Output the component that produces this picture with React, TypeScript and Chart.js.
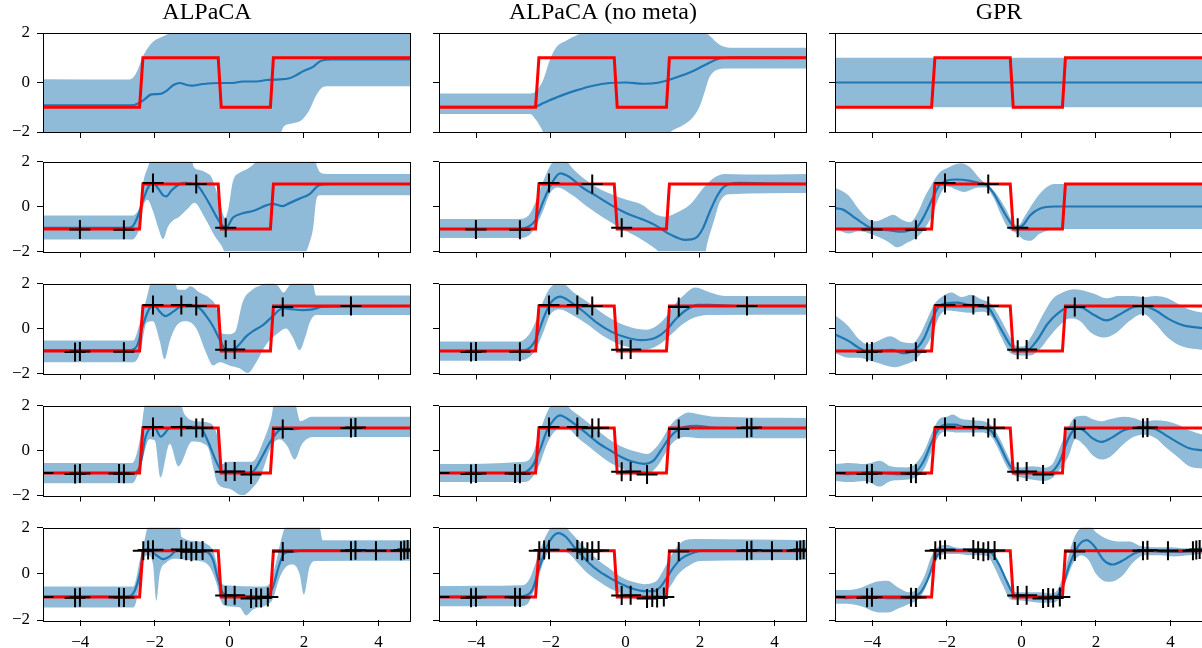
import React, { useEffect, useRef } from 'react';
import { Chart, registerables } from 'chart.js';
Chart.register(...registerables);

// ---------- text / ticks ----------
const titles = ['ALPaCA', 'ALPaCA (no meta)', 'GPR'];
const xTicks = [-4, -2, 0, 2, 4];
const yTicks = [-2, 0, 2];
const X_MIN = -5;
const X_MAX = 4.87;
const Y_MIN = -2;
const Y_MAX = 2;

// ---------- true function (red) ----------
const stepX = [-5, -2.41, -2.32, -0.3, -0.22, 1.1, 1.18, 4.87];
const stepY = [-1, -1, 1, 1, -1, -1, 1, 1];

// ---------- observed samples (first n used per row) ----------
const markerX = [-4.01, -2.83, -2.05, -0.89, -0.1, -4.14, -1.29, 0.14, 1.43, 3.26, -5.0, -2.96, -0.72, 0.58, 3.38, -2.31, -2.18, -1.16, -1.02, 0.72, 0.85, 1.03, 3.93, 4.6, 4.69, 4.78];
const markerY = [-1.02, -1.03, 1.04, 1.0, -0.94, -1.04, 1.05, -0.93, 0.96, 1.0, -1.0, -1.02, 1.01, -1.07, 1.02, 1.0, 1.03, 1.0, 0.95, -1.03, -1.05, -1.0, 1.0, 1.0, 1.03, 1.05];
const markersPerRow = [0, 5, 10, 15, 26];

// ---------- ALPaCA ----------
const alp1Mean = [[-5, -0.92], [-2.6, -0.92], [-2.45, -0.85], [-2.31, -0.72], [-2.09, -0.48], [-1.85, -0.46], [-1.7, -0.35], [-1.5, -0.1], [-1.33, -0.02], [-1.15, -0.1], [-1.0, -0.13], [-0.71, -0.06], [-0.26, -0.02], [0.09, -0.02], [0.36, 0.04], [0.72, 0.04], [0.99, 0.1], [1.25, 0.12], [1.61, 0.17], [1.8, 0.3], [1.97, 0.45], [2.23, 0.62], [2.46, 0.88], [2.77, 0.93], [4.87, 0.93]];
const alp1Upper = [[-5, 0.13], [-2.7, 0.12], [-2.58, 0.2], [-2.45, 0.55], [-2.35, 0.95], [-2.23, 1.3], [-2.05, 1.65], [-1.8, 1.85], [-1.6, 2.0], [-1.4, 2.2], [4.87, 2.2]];
const alp1Lower = [[-5, -2.3], [1.3, -2.3], [1.45, -1.8], [1.7, -1.65], [1.95, -1.5], [2.15, -1.1], [2.3, -0.6], [2.45, -0.25], [2.6, -0.15], [4.87, -0.15]];

const alp2Mean = [[-5, -0.95], [-2.7, -0.95], [-2.58, -0.85], [-2.45, -0.4], [-2.31, 0.3], [-2.18, 0.85], [-2.05, 1.05], [-1.91, 0.8], [-1.78, 0.5], [-1.69, 0.45], [-1.56, 0.7], [-1.33, 1.0], [-1.16, 1.05], [-0.89, 0.98], [-0.71, 0.6], [-0.53, 0.1], [-0.35, -0.45], [-0.19, -0.85], [-0.08, -0.93], [0.09, -0.5], [0.36, -0.3], [0.63, -0.2], [0.99, 0.05], [1.16, 0.12], [1.43, 0.02], [1.61, 0.15], [1.88, 0.35], [2.15, 0.55], [2.41, 0.95], [2.77, 1.0], [4.87, 1.0]];
const alp2Upper = [[-5, -0.4], [-2.6, -0.4], [-2.5, -0.3], [-2.4, 0.05], [-2.31, 1.1], [-2.18, 1.78], [-2.1, 2.1], [-1.0, 2.1], [-0.97, 1.8], [-0.8, 1.62], [-0.62, 1.5], [-0.48, 1.3], [-0.35, 0.7], [-0.22, -0.05], [-0.12, -0.5], [-0.03, -0.1], [0.09, 1.1], [0.27, 1.5], [0.45, 1.65], [0.63, 1.85], [0.8, 2.1], [2.3, 2.1], [2.35, 1.78], [2.45, 1.5], [2.6, 1.45], [4.87, 1.45]];
const alp2Lower = [[-5, -1.47], [-2.6, -1.47], [-2.5, -1.3], [-2.4, -0.9], [-2.31, 0.0], [-2.2, 0.3], [-2.05, -0.2], [-1.9, -1.0], [-1.78, -1.45], [-1.65, -0.9], [-1.5, -0.6], [-1.38, -0.5], [-1.12, -0.1], [-0.94, 0.17], [-0.66, -0.5], [-0.4, -1.3], [-0.22, -1.72], [-0.08, -2.1], [2.0, -2.1], [2.15, -1.6], [2.25, -0.9], [2.32, 0.2], [2.41, 0.5], [4.87, 0.5]];

const alp3Mean = [[-5, -0.97], [-2.7, -0.97], [-2.49, -0.8], [-2.31, 0.2], [-2.14, 0.9], [-2.0, 1.0], [-1.87, 0.75], [-1.72, 0.55], [-1.51, 0.75], [-1.29, 1.0], [-1.07, 1.05], [-0.8, 0.9], [-0.62, 0.55], [-0.44, 0.1], [-0.26, -0.5], [-0.1, -0.93], [0.09, -0.95], [0.27, -0.7], [0.45, -0.35], [0.63, -0.12], [0.9, 0.15], [1.16, 0.55], [1.43, 0.9], [1.7, 0.85], [1.97, 0.82], [2.23, 0.85], [2.5, 0.97], [4.87, 1.0]];
const alp3Upper = [[-5, -0.53], [-2.58, -0.53], [-2.4, 0.26], [-2.22, 1.34], [-2.09, 2.05], [-1.45, 2.05], [-1.4, 1.75], [-1.2, 1.72], [-1.05, 1.88], [-0.8, 1.6], [-0.53, 1.34], [-0.35, 0.93], [-0.22, -0.2], [-0.05, -0.25], [0.15, -0.15], [0.36, 1.2], [0.63, 1.75], [0.9, 1.95], [1.1, 2.05], [1.3, 1.9], [1.45, 1.6], [1.6, 1.9], [1.7, 2.05], [2.23, 2.05], [2.32, 1.47], [4.87, 1.47]];
const alp3Lower = [[-5, -1.5], [-2.58, -1.5], [-2.4, -1.1], [-2.22, 0.26], [-2.05, 0.32], [-1.87, -0.55], [-1.74, -1.36], [-1.6, -0.55], [-1.42, 0.12], [-1.16, 0.32], [-0.89, 0.0], [-0.62, -1.1], [-0.44, -1.64], [-0.26, -1.5], [0.0, -1.64], [0.27, -1.77], [0.49, -1.98], [0.72, -1.5], [0.99, -0.7], [1.34, -0.15], [1.52, 0.0], [1.7, -0.4], [1.88, -0.96], [2.05, -0.3], [2.15, 0.26], [2.32, 0.6], [4.87, 0.6]];

const alp4Mean = [[-5, -1.0], [-2.6, -1.0], [-2.4, -0.7], [-2.25, 0.6], [-2.12, 1.0], [-2.02, 1.05], [-1.84, 0.62], [-1.6, 1.0], [-1.3, 1.05], [-0.8, 1.05], [-0.6, 0.5], [-0.35, -0.5], [-0.2, -0.92], [0.0, -0.95], [0.3, -0.95], [0.55, -1.05], [0.7, -0.8], [0.9, -0.2], [1.1, 0.4], [1.3, 0.85], [1.45, 0.97], [1.7, 0.95], [2.0, 1.0], [4.87, 1.0]];
const alp4Upper = [[-5, -0.55], [-2.6, -0.55], [-2.4, 0.5], [-2.25, 2.1], [-1.33, 2.1], [-1.2, 1.6], [-0.9, 1.3], [-0.5, 1.2], [-0.3, 0.5], [-0.2, -0.6], [0.0, -0.5], [0.6, -0.5], [0.93, 0.5], [1.13, 1.5], [1.2, 2.1], [1.75, 2.1], [1.9, 1.3], [2.2, 1.5], [4.87, 1.5]];
const alp4Lower = [[-5, -1.45], [-2.6, -1.45], [-2.35, -0.5], [-2.15, 0.5], [-2.0, 0.45], [-1.85, -1.2], [-1.6, 0.3], [-1.37, -0.7], [-1.0, 0.4], [-0.6, 0.2], [-0.3, -1.5], [0.0, -1.7], [0.35, -2.0], [0.6, -1.7], [0.82, -1.2], [1.13, 0.2], [1.34, 0.5], [1.55, 0.2], [1.75, -0.4], [1.95, 0.3], [2.26, 0.6], [4.87, 0.6]];

const alp5Mean = [[-5, -1.0], [-2.76, -1.0], [-2.58, -0.85], [-2.4, 0.0], [-2.3, 0.95], [-2.18, 1.05], [-1.96, 0.8], [-1.78, 0.63], [-1.6, 0.75], [-1.42, 1.0], [-1.1, 0.97], [-0.62, 0.95], [-0.44, 0.6], [-0.31, -0.2], [-0.17, -0.85], [0.09, -0.95], [0.99, -1.0], [1.16, -0.6], [1.34, 0.4], [1.48, 0.9], [1.7, 0.95], [1.97, 1.0], [4.87, 1.0]];
const alp5Upper = [[-5, -0.55], [-2.58, -0.55], [-2.4, 0.6], [-2.27, 1.5], [-2.18, 2.05], [-1.33, 2.05], [-1.29, 1.6], [-0.8, 1.4], [-0.62, 1.3], [-0.44, 1.0], [-0.3, 0.2], [-0.22, -0.4], [-0.08, -0.5], [0.9, -0.55], [1.07, -0.45], [1.25, 0.5], [1.39, 1.5], [1.52, 2.05], [2.41, 2.05], [2.5, 1.45], [4.87, 1.45]];
const alp5Lower = [[-5, -1.46], [-2.58, -1.46], [-2.5, -1.2], [-2.3, 0.7], [-2.18, 0.8], [-2.05, 0.4], [-1.96, -1.17], [-1.87, 0.0], [-1.69, 0.49], [-1.42, 0.65], [-1.16, 0.6], [-0.8, 0.55], [-0.53, 0.3], [-0.35, -0.4], [-0.22, -1.2], [-0.08, -1.4], [0.27, -1.45], [0.45, -1.8], [0.63, -1.55], [0.99, -1.35], [1.16, -1.1], [1.34, -0.2], [1.52, 0.3], [1.7, 0.4], [1.88, 0.0], [2.0, -0.9], [2.15, 0.3], [2.32, 0.55], [4.87, 0.56]];

// ---------- ALPaCA (no meta) ----------
const nom1Mean = [[-5, -0.98], [-2.43, -0.98], [-2.2, -0.83], [-1.76, -0.55], [-1.32, -0.32], [-0.87, -0.13], [-0.42, -0.02], [0.02, 0.0], [0.47, -0.05], [0.91, 0.0], [1.36, 0.2], [1.8, 0.45], [2.25, 0.8], [2.52, 0.97], [3.14, 1.02], [4.87, 1.0]];
const nom1Upper = [[-5, -0.44], [-2.56, -0.44], [-2.4, -0.35], [-2.21, 0.09], [-2.03, 0.9], [-1.85, 1.43], [-1.58, 1.7], [-1.32, 1.9], [-1.05, 2.05], [2.0, 2.05], [2.25, 1.9], [2.43, 1.64], [2.61, 1.46], [2.79, 1.4], [4.87, 1.4]];
const nom1Lower = [[-5, -1.27], [-2.56, -1.27], [-2.39, -1.53], [-2.25, -1.87], [-2.17, -2.1], [1.1, -2.1], [1.27, -1.93], [1.54, -1.73], [1.81, -1.4], [1.98, -1.0], [2.12, -0.4], [2.25, 0.2], [2.43, 0.5], [2.7, 0.57], [4.87, 0.57]];

const nom2Mean = [[-5, -1.0], [-2.87, -1.0], [-2.6, -0.9], [-2.41, -0.6], [-2.21, 0.2], [-2.02, 0.9], [-1.75, 1.47], [-1.49, 1.3], [-1.16, 0.85], [-0.76, 0.45], [-0.37, 0.05], [0.03, -0.3], [0.42, -0.55], [0.82, -0.85], [1.21, -1.25], [1.61, -1.48], [1.88, -1.4], [2.07, -1.0], [2.27, -0.2], [2.47, 0.5], [2.66, 0.9], [3.06, 1.05], [3.98, 1.02], [4.87, 1.0]];
const nom2Upper = [[-5, -0.55], [-2.87, -0.55], [-2.6, -0.4], [-2.41, 0.2], [-2.21, 1.1], [-2.02, 1.8], [-1.88, 2.05], [-1.62, 2.05], [-1.42, 1.7], [-1.16, 1.3], [-0.76, 0.85], [-0.37, 0.55], [0.03, 0.3], [0.42, 0.1], [0.82, -0.35], [1.08, -0.45], [1.34, -0.3], [1.74, 0.1], [2.13, 0.9], [2.4, 1.3], [2.66, 1.45], [3.19, 1.42], [4.87, 1.45]];
const nom2Lower = [[-5, -1.4], [-2.87, -1.4], [-2.6, -1.3], [-2.41, -0.9], [-2.21, -0.2], [-2.02, 0.6], [-1.82, 0.85], [-1.42, 0.5], [-1.03, 0.0], [-0.63, -0.45], [-0.24, -0.85], [0.03, -1.1], [0.42, -1.45], [0.82, -1.9], [0.95, -2.1], [2.13, -2.1], [2.2, -1.6], [2.4, -0.5], [2.53, 0.2], [2.79, 0.55], [4.87, 0.6]];

const nom3Mean = [[-5, -1.0], [-2.87, -1.0], [-2.6, -0.9], [-2.41, -0.5], [-2.21, 0.4], [-2.02, 1.1], [-1.75, 1.42], [-1.49, 1.2], [-1.16, 0.8], [-0.76, 0.25], [-0.37, -0.15], [0.03, -0.4], [0.42, -0.52], [0.82, -0.4], [1.08, -0.1], [1.34, 0.4], [1.61, 0.8], [1.94, 1.05], [2.27, 1.05], [2.93, 1.0], [4.87, 1.0]];
const nom3Upper = [[-5, -0.58], [-2.87, -0.58], [-2.6, -0.3], [-2.41, 0.3], [-2.21, 1.2], [-2.02, 1.8], [-1.82, 2.0], [-1.62, 1.95], [-1.42, 1.65], [-1.03, 1.2], [-0.63, 0.7], [-0.24, 0.3], [0.16, 0.05], [0.56, -0.05], [0.82, 0.1], [1.08, 0.5], [1.34, 1.1], [1.61, 1.55], [1.87, 1.82], [2.27, 1.6], [2.66, 1.45], [4.87, 1.45]];
const nom3Lower = [[-5, -1.43], [-2.87, -1.43], [-2.6, -1.3], [-2.41, -0.95], [-2.21, -0.2], [-2.02, 0.6], [-1.75, 0.84], [-1.42, 0.6], [-1.03, 0.2], [-0.63, -0.3], [-0.24, -0.65], [0.03, -0.8], [0.42, -0.95], [0.75, -0.85], [1.0, -0.6], [1.27, -0.2], [1.54, 0.2], [1.87, 0.5], [2.27, 0.6], [4.87, 0.61]];

const nom4Mean = [[-5, -1.0], [-2.8, -1.0], [-2.5, -0.7], [-2.3, 0.0], [-2.1, 0.9], [-1.9, 1.4], [-1.75, 1.56], [-1.55, 1.4], [-1.3, 1.1], [-1.0, 0.7], [-0.7, 0.3], [-0.4, 0.0], [-0.1, -0.3], [0.2, -0.5], [0.5, -0.59], [0.75, -0.45], [0.95, 0.0], [1.15, 0.5], [1.35, 0.85], [1.6, 1.05], [1.9, 1.1], [2.3, 1.02], [3.0, 1.0], [4.87, 1.0]];
const nom4Upper = [[-5, -0.6], [-2.7, -0.5], [-2.5, -0.2], [-2.3, 0.8], [-2.1, 1.7], [-1.95, 2.05], [-1.6, 2.05], [-1.45, 1.8], [-1.2, 1.5], [-0.9, 1.1], [-0.6, 0.7], [-0.3, 0.35], [0.0, 0.1], [0.3, -0.05], [0.6, -0.15], [0.8, 0.1], [1.0, 0.55], [1.2, 1.1], [1.45, 1.5], [1.7, 1.69], [2.0, 1.6], [2.4, 1.5], [4.87, 1.45]];
const nom4Lower = [[-5, -1.4], [-2.7, -1.4], [-2.5, -1.2], [-2.3, -0.6], [-2.1, 0.3], [-1.9, 0.85], [-1.7, 1.0], [-1.5, 0.95], [-1.3, 0.6], [-1.0, 0.2], [-0.7, -0.2], [-0.4, -0.55], [-0.1, -0.8], [0.2, -1.0], [0.5, -1.05], [0.7, -0.95], [0.9, -0.6], [1.1, -0.05], [1.3, 0.4], [1.6, 0.6], [2.0, 0.55], [4.87, 0.55]];

const nom5Mean = [[-5, -1.0], [-3.0, -1.0], [-2.7, -0.95], [-2.5, -0.7], [-2.3, 0.3], [-2.1, 1.2], [-1.95, 1.6], [-1.8, 1.76], [-1.6, 1.6], [-1.4, 1.2], [-1.2, 0.85], [-1.0, 0.5], [-0.7, 0.1], [-0.4, -0.2], [-0.1, -0.45], [0.2, -0.65], [0.5, -0.75], [0.75, -0.75], [0.95, -0.55], [1.1, -0.2], [1.3, 0.3], [1.5, 0.65], [1.8, 0.9], [2.1, 1.0], [4.87, 1.0]];
const nom5Upper = [[-5, -0.53], [-2.8, -0.5], [-2.6, -0.3], [-2.4, 0.5], [-2.2, 1.4], [-2.0, 2.0], [-1.9, 2.1], [-1.65, 2.1], [-1.5, 1.85], [-1.3, 1.5], [-1.0, 1.0], [-0.7, 0.55], [-0.4, 0.2], [-0.1, -0.15], [0.2, -0.35], [0.5, -0.45], [0.8, -0.35], [1.0, 0.1], [1.2, 0.7], [1.4, 1.2], [1.6, 1.45], [1.9, 1.5], [4.87, 1.45]];
const nom5Lower = [[-5, -1.4], [-2.8, -1.4], [-2.6, -1.25], [-2.4, -0.5], [-2.2, 0.5], [-2.05, 0.95], [-1.8, 1.05], [-1.5, 0.85], [-1.3, 0.5], [-1.0, 0.0], [-0.7, -0.35], [-0.4, -0.65], [-0.1, -0.85], [0.2, -1.0], [0.5, -1.1], [0.8, -1.1], [1.0, -0.9], [1.2, -0.55], [1.4, -0.05], [1.7, 0.35], [2.0, 0.55], [4.87, 0.6]];

// ---------- GPR ----------
const gpr1Mean = [[-5, 0], [4.87, 0]];
const gpr1Upper = [[-5, 1], [4.87, 1]];
const gpr1Lower = [[-5, -1], [4.87, -1]];

const gpr2Mean = [[-5, -0.07], [-4.77, -0.15], [-4.51, -0.45], [-4.25, -0.75], [-4.01, -0.98], [-3.59, -1.05], [-3.19, -1.12], [-2.99, -1.05], [-2.79, -0.9], [-2.6, -0.4], [-2.4, 0.3], [-2.2, 0.95], [-2.0, 1.15], [-1.74, 1.2], [-1.41, 1.15], [-1.15, 1.05], [-0.95, 0.98], [-0.75, 0.6], [-0.55, 0.0], [-0.36, -0.55], [-0.16, -0.95], [0.03, -0.85], [0.23, -0.4], [0.49, -0.1], [0.89, 0.0], [4.87, 0.0]];
const gpr2Upper = [[-5, 0.85], [-4.64, 0.5], [-4.37, -0.1], [-4.11, -0.55], [-3.91, -0.65], [-3.59, -0.45], [-3.45, -0.37], [-3.19, -0.6], [-2.99, -0.7], [-2.79, -0.3], [-2.6, 0.4], [-2.4, 1.0], [-2.2, 1.5], [-2.0, 1.7], [-1.61, 1.92], [-1.35, 1.7], [-1.15, 1.3], [-0.95, 1.0], [-0.69, 0.6], [-0.42, -0.1], [-0.23, -0.7], [-0.09, -0.85], [0.1, -0.4], [0.37, 0.3], [0.63, 0.8], [0.89, 1.0], [4.87, 1.0]];
const gpr2Lower = [[-5, -0.97], [-4.64, -1.2], [-4.37, -1.1], [-3.98, -1.25], [-3.59, -1.55], [-3.32, -1.81], [-3.06, -1.6], [-2.79, -1.35], [-2.6, -1.0], [-2.4, -0.4], [-2.2, 0.45], [-2.0, 0.9], [-1.74, 0.75], [-1.54, 0.65], [-1.35, 0.75], [-1.15, 0.85], [-0.95, 0.85], [-0.75, 0.4], [-0.55, -0.35], [-0.36, -0.95], [-0.16, -1.15], [0.04, -1.45], [0.24, -1.52], [0.5, -1.2], [0.76, -1.05], [1.03, -1.0], [4.87, -1.0]];

const gpr3Mean = [[-5, -0.27], [-4.64, -0.55], [-4.37, -0.85], [-4.11, -1.05], [-3.85, -1.0], [-3.45, -0.95], [-3.19, -1.1], [-2.99, -1.05], [-2.79, -0.85], [-2.6, -0.4], [-2.4, 0.4], [-2.2, 1.0], [-2.0, 1.12], [-1.74, 1.15], [-1.41, 1.05], [-1.15, 1.0], [-0.88, 0.9], [-0.69, 0.4], [-0.49, -0.2], [-0.29, -0.75], [-0.09, -0.98], [0.17, -0.95], [0.43, -0.5], [0.7, 0.2], [0.96, 0.65], [1.29, 0.95], [1.56, 0.95], [1.95, 0.6], [2.28, 0.36], [2.61, 0.6], [3.0, 0.95], [3.26, 1.0], [3.6, 0.8], [3.92, 0.45], [4.32, 0.15], [4.87, 0.02]];
const gpr3Upper = [[-5, 0.6], [-4.64, 0.1], [-4.37, -0.45], [-4.11, -0.7], [-3.85, -0.55], [-3.52, -0.34], [-3.19, -0.6], [-2.92, -0.65], [-2.73, -0.3], [-2.53, 0.4], [-2.33, 1.1], [-2.14, 1.4], [-1.87, 1.6], [-1.61, 1.4], [-1.35, 1.5], [-1.08, 1.3], [-0.82, 1.1], [-0.55, 0.4], [-0.36, -0.2], [-0.16, -0.75], [0.04, -0.8], [0.3, -0.25], [0.57, 0.6], [0.83, 1.3], [1.1, 1.6], [1.42, 1.75], [1.95, 1.55], [2.28, 1.35], [2.61, 1.45], [3.0, 1.45], [3.3, 1.4], [3.6, 1.45], [3.92, 1.35], [4.2, 1.1], [4.5, 0.85], [4.87, 0.7]];
const gpr3Lower = [[-5, -1.1], [-4.64, -1.3], [-4.37, -1.3], [-4.11, -1.4], [-3.72, -1.6], [-3.39, -1.72], [-3.12, -1.6], [-2.86, -1.4], [-2.6, -0.9], [-2.4, -0.3], [-2.2, 0.55], [-2.0, 0.8], [-1.67, 0.75], [-1.35, 0.7], [-1.08, 0.75], [-0.82, 0.55], [-0.55, -0.35], [-0.29, -1.1], [-0.03, -1.2], [0.24, -1.2], [0.5, -0.9], [0.76, -0.35], [1.03, 0.15], [1.29, 0.45], [1.56, 0.35], [1.88, -0.2], [2.21, -0.4], [2.54, -0.2], [2.87, 0.3], [3.26, 0.65], [3.6, 0.2], [3.92, -0.4], [4.32, -0.8], [4.87, -0.95]];

const gpr4Mean = [[-5, -1.0], [-4.7, -1.05], [-4.3, -1.0], [-4.0, -0.95], [-3.7, -1.0], [-3.3, -1.05], [-3.0, -1.05], [-2.8, -0.9], [-2.6, -0.4], [-2.4, 0.4], [-2.2, 1.0], [-2.0, 1.15], [-1.8, 1.15], [-1.5, 1.05], [-1.2, 1.05], [-1.0, 1.0], [-0.8, 0.85], [-0.6, 0.3], [-0.4, -0.4], [-0.2, -0.9], [0.0, -0.95], [0.3, -1.0], [0.6, -1.05], [0.85, -0.9], [1.05, -0.4], [1.2, 0.3], [1.35, 0.8], [1.5, 1.0], [1.7, 0.85], [1.9, 0.55], [2.15, 0.38], [2.4, 0.55], [2.75, 0.9], [3.3, 1.05], [3.6, 0.95], [3.9, 0.65], [4.2, 0.35], [4.5, 0.1], [4.87, 0.0]];
const gpr4Upper = [[-5, -0.6], [-4.6, -0.55], [-4.2, -0.6], [-3.8, -0.45], [-3.5, -0.7], [-3.1, -0.75], [-2.85, -0.6], [-2.6, 0.0], [-2.4, 0.8], [-2.2, 1.4], [-2.0, 1.5], [-1.85, 1.6], [-1.6, 1.4], [-1.3, 1.35], [-1.0, 1.3], [-0.8, 1.1], [-0.6, 0.6], [-0.4, -0.1], [-0.2, -0.7], [0.0, -0.75], [0.3, -0.7], [0.6, -0.75], [0.85, -0.55], [1.05, 0.2], [1.25, 1.0], [1.45, 1.5], [1.7, 1.55], [1.9, 1.4], [2.15, 1.3], [2.4, 1.4], [2.75, 1.5], [3.0, 1.45], [3.3, 1.3], [3.6, 1.35], [3.9, 1.3], [4.2, 1.15], [4.5, 0.9], [4.87, 0.7]];
const gpr4Lower = [[-5, -1.35], [-4.6, -1.4], [-4.2, -1.35], [-3.8, -1.6], [-3.5, -1.35], [-3.1, -1.3], [-2.85, -1.2], [-2.6, -0.8], [-2.4, 0.0], [-2.2, 0.7], [-2.0, 0.85], [-1.7, 0.8], [-1.4, 0.8], [-1.1, 0.8], [-0.8, 0.6], [-0.6, 0.0], [-0.4, -0.7], [-0.2, -1.1], [0.0, -1.2], [0.3, -1.3], [0.6, -1.35], [0.85, -1.2], [1.05, -0.8], [1.25, -0.3], [1.45, 0.5], [1.7, 0.2], [1.9, -0.2], [2.15, -0.4], [2.4, -0.25], [2.75, 0.3], [3.0, 0.6], [3.3, 0.7], [3.6, 0.55], [3.9, 0.1], [4.2, -0.3], [4.5, -0.7], [4.87, -0.8]];

const gpr5Mean = [[-5, -1.0], [-4.7, -1.05], [-4.3, -1.0], [-4.0, -1.0], [-3.6, -1.05], [-3.2, -1.05], [-2.9, -1.0], [-2.7, -0.8], [-2.5, -0.2], [-2.3, 0.7], [-2.1, 1.0], [-1.9, 1.05], [-1.6, 1.0], [-1.3, 1.0], [-1.0, 1.0], [-0.8, 0.9], [-0.6, 0.4], [-0.4, -0.3], [-0.2, -0.9], [0.0, -0.98], [0.3, -1.0], [0.6, -1.05], [0.9, -1.0], [1.1, -0.6], [1.25, 0.2], [1.45, 1.0], [1.6, 1.35], [1.75, 1.45], [1.95, 1.2], [2.2, 0.6], [2.45, 0.4], [2.75, 0.6], [3.05, 0.9], [3.4, 1.0], [3.8, 0.95], [4.2, 0.95], [4.87, 1.0]];
const gpr5Upper = [[-5, -0.7], [-4.7, -0.7], [-4.3, -0.6], [-3.9, -0.35], [-3.6, -0.3], [-3.3, -0.6], [-3.0, -0.8], [-2.8, -0.65], [-2.6, -0.1], [-2.4, 0.8], [-2.2, 1.2], [-2.0, 1.25], [-1.8, 1.15], [-1.5, 1.1], [-1.2, 1.1], [-0.9, 1.1], [-0.7, 0.8], [-0.5, 0.1], [-0.3, -0.6], [-0.1, -0.8], [0.2, -0.8], [0.5, -0.8], [0.8, -0.85], [1.0, -0.6], [1.2, 0.4], [1.4, 1.5], [1.6, 2.0], [1.8, 2.1], [2.0, 1.8], [2.3, 1.5], [2.6, 1.4], [2.9, 1.4], [3.2, 1.2], [3.6, 1.15], [4.0, 1.15], [4.4, 1.1], [4.87, 1.15]];
const gpr5Lower = [[-5, -1.3], [-4.7, -1.3], [-4.3, -1.4], [-3.9, -1.65], [-3.6, -1.68], [-3.3, -1.5], [-3.0, -1.3], [-2.8, -1.15], [-2.6, -0.7], [-2.4, 0.2], [-2.2, 0.75], [-2.0, 0.85], [-1.7, 0.85], [-1.4, 0.8], [-1.1, 0.8], [-0.9, 0.75], [-0.7, 0.2], [-0.5, -0.5], [-0.3, -1.1], [-0.1, -1.15], [0.2, -1.2], [0.5, -1.25], [0.8, -1.25], [1.0, -1.1], [1.2, -0.3], [1.4, 0.5], [1.6, 0.8], [1.8, 0.6], [2.0, 0.0], [2.2, -0.3], [2.4, -0.35], [2.7, -0.1], [3.0, 0.5], [3.3, 0.8], [3.7, 0.8], [4.1, 0.75], [4.5, 0.8], [4.87, 0.85]];

// ---------- grid assembly ----------
const panelRows = [
  [[alp1Mean, alp1Upper, alp1Lower], [nom1Mean, nom1Upper, nom1Lower], [gpr1Mean, gpr1Upper, gpr1Lower]],
  [[alp2Mean, alp2Upper, alp2Lower], [nom2Mean, nom2Upper, nom2Lower], [gpr2Mean, gpr2Upper, gpr2Lower]],
  [[alp3Mean, alp3Upper, alp3Lower], [nom3Mean, nom3Upper, nom3Lower], [gpr3Mean, gpr3Upper, gpr3Lower]],
  [[alp4Mean, alp4Upper, alp4Lower], [nom4Mean, nom4Upper, nom4Lower], [gpr4Mean, gpr4Upper, gpr4Lower]],
  [[alp5Mean, alp5Upper, alp5Lower], [nom5Mean, nom5Upper, nom5Lower], [gpr5Mean, gpr5Upper, gpr5Lower]],
];

// layout (px)
const PLOT_LEFT = [43, 439, 835];
const PLOT_TOP = [33, 155, 277, 399, 521];
const PLOT_W = 368;
const PLOT_H = 99;
const AXIS_W = 40;
const PAD_R = 40;
const TICK_LEN = 6;

const FONT = "'Liberation Serif', 'DejaVu Serif', serif";
const BLUE = '#1f77b4';
const BAND = 'rgba(31,119,180,0.5)';
const RED = '#ff0000';

const toPts = (arr: number[][]) => arr.map(([x, y]) => ({ x, y }));
const fmt = (v: number) => (v < 0 ? '\u2212' + Math.abs(v) : String(v));

const framePlugin = {
  id: 'frame',
  afterDatasetsDraw(chart: any) {
    const { ctx, chartArea: a } = chart;
    ctx.save();
    ctx.strokeStyle = '#000';
    ctx.lineWidth = 1;
    ctx.strokeRect(Math.round(a.left) + 0.5, Math.round(a.top) + 0.5, Math.round(a.right - a.left) - 1, Math.round(a.bottom - a.top));
    ctx.restore();
  },
};

function cellGeom(r: number, c: number) {
  const topExtra = r === 0 ? PLOT_TOP[0] : 6;
  const xAxisH = r === 4 ? 36 : 10;
  const left = PLOT_LEFT[c] - AXIS_W;
  const top = PLOT_TOP[r] - topExtra;
  const width = AXIS_W + PLOT_W + PAD_R;
  const height = topExtra + PLOT_H + xAxisH;
  return { left, top, width, height, topExtra, xAxisH };
}

function makeConfig(r: number, c: number) {
  const g = cellGeom(r, c);
  const [mean, upper, lower] = panelRows[r][c];
  const n = markersPerRow[r];
  const mk = markerX.slice(0, n).map((x, i) => ({ x, y: markerY[i] }));
  const red = stepX.map((x, i) => ({ x, y: stepY[i] }));
  const tickFont = { family: FONT, size: 17 };
  const gridOpts = { display: true, drawOnChartArea: false, drawTicks: true, tickLength: TICK_LEN, tickColor: '#000', tickWidth: 1 };
  return {
    type: 'line',
    data: {
      datasets: [
        { data: mk, showLine: false, pointStyle: 'line', pointRadius: 10.5, pointBorderWidth: 2, pointBorderColor: '#000', pointBackgroundColor: '#000', order: 0 },
        { data: mk, showLine: false, pointStyle: 'line', pointRotation: 90, pointRadius: 9.5, pointBorderWidth: 2, pointBorderColor: '#000', pointBackgroundColor: '#000', order: 0 },
        { data: red, borderColor: RED, borderWidth: 3, pointRadius: 0, tension: 0, fill: false, order: 1 },
        { data: toPts(mean), borderColor: BLUE, borderWidth: 2.2, pointRadius: 0, cubicInterpolationMode: 'monotone', fill: false, order: 2 },
        { data: toPts(upper), borderWidth: 0, pointRadius: 0, cubicInterpolationMode: 'monotone', fill: '+1', backgroundColor: BAND, order: 3 },
        { data: toPts(lower), borderWidth: 0, pointRadius: 0, cubicInterpolationMode: 'monotone', fill: false, order: 4 },
      ],
    },
    options: {
      responsive: false,
      maintainAspectRatio: false,
      animation: false,
      events: [],
      layout: { padding: { top: r === 0 ? 0 : g.topExtra, right: PAD_R, left: 0, bottom: 0 } },
      plugins: {
        legend: { display: false },
        tooltip: { enabled: false },
        title: r === 0
          ? { display: true, text: titles[c], color: '#000', font: { family: FONT, size: 24, weight: 'normal', lineHeight: 1.0 }, padding: { top: 1, bottom: PLOT_TOP[0] - 25 } }
          : { display: false },
      },
      scales: {
        x: {
          type: 'linear',
          min: X_MIN,
          max: X_MAX,
          afterBuildTicks: (s: any) => { s.ticks = xTicks.map((v) => ({ value: v })); },
          afterFit: (s: any) => { s.height = g.xAxisH; s.paddingLeft = 0; s.paddingRight = 0; s.paddingTop = 0; s.paddingBottom = 0; },
          ticks: { display: r === 4, padding: 6.8, color: '#000', font: tickFont, autoSkip: false, maxRotation: 0, callback: (v: number) => fmt(v) },
          grid: gridOpts,
          border: { display: false },
        },
        y: {
          type: 'linear',
          min: Y_MIN,
          max: Y_MAX,
          afterBuildTicks: (s: any) => { s.ticks = yTicks.map((v) => ({ value: v })); },
          afterFit: (s: any) => { s.width = AXIS_W; s.paddingTop = 0; s.paddingBottom = 0; s.paddingLeft = 0; s.paddingRight = 0; },
          ticks: { display: c === 0, padding: 7, color: '#000', font: tickFont, autoSkip: false, callback: (v: number) => fmt(v) },
          grid: gridOpts,
          border: { display: false },
        },
      },
    },
    plugins: [framePlugin],
  };
}

const cells: { r: number; c: number }[] = [];
for (let r = 0; r < 5; r++) for (let c = 0; c < 3; c++) cells.push({ r, c });

export default function App() {
  const refs = useRef<(HTMLCanvasElement | null)[]>([]);
  useEffect(() => {
    const charts = cells.map(({ r, c }, i) => new Chart(refs.current[i] as HTMLCanvasElement, makeConfig(r, c) as any));
    return () => charts.forEach((ch) => ch.destroy());
  }, []);
  return (
    <div style={{ position: 'fixed', left: 0, top: 0, width: 1202, height: 648, background: '#fff', overflow: 'hidden' }}>
      {cells.map(({ r, c }, i) => {
        const g = cellGeom(r, c);
        return (
          <canvas
            key={i}
            ref={(el) => { refs.current[i] = el; }}
            width={g.width}
            height={g.height}
            style={{ position: 'absolute', left: g.left, top: g.top, width: g.width, height: g.height }}
          />
        );
      })}
    </div>
  );
}
